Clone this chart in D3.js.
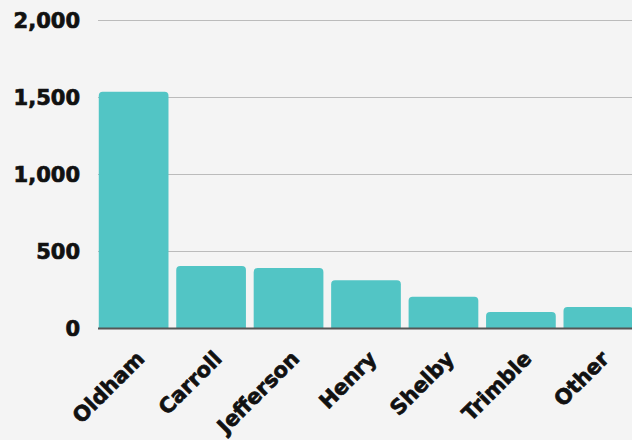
<!DOCTYPE html>
<html lang="en">
<head>
    <meta charset="UTF-8">
    <title>Chart</title>
    <style>
        body { margin: 0; background: #f4f4f4; }
        text { font-family: 'DejaVu Sans', sans-serif; font-weight: bold; fill: #111; stroke: #111; stroke-width: 0.7px; }
    </style>
</head>
<body>
    <svg id="svg" width="632" height="440"></svg>

    <script src="https://d3js.org/d3.v7.min.js"></script>
    <script>
        // data
        const counties = ['Oldham', 'Carroll', 'Jefferson', 'Henry', 'Shelby', 'Trimble', 'Other']
        const counts = [1534, 403, 390, 310, 203, 104, 136]
        const yTicks = [0, 500, 1000, 1500, 2000]

        const svg = d3.select('#svg')
        svg.append('rect').attr('width', 632).attr('height', 440).attr('fill', '#f4f4f4')

        const xScale = d3.scaleBand()
            .domain(counties)
            .range([98, 634])
            .paddingInner(0.1)
            .paddingOuter(0.01)
        const yScale = d3.scaleLinear()
            .domain([0, 2000])
            .range([328, 20])

        // gridlines
        svg.append('g')
            .selectAll('line')
            .data(yTicks.slice(1))
            .enter()
            .append('line')
            .attr('x1', 98)
            .attr('x2', 632)
            .attr('y1', d => yScale(d) + 0.5)
            .attr('y2', d => yScale(d) + 0.5)
            .attr('stroke', '#bbbbbb')
            .attr('stroke-width', 1)

        // y labels
        svg.append('g')
            .selectAll('text')
            .data(yTicks)
            .enter()
            .append('text')
            .text(d => d3.format(',')(d))
            .attr('x', 80)
            .attr('y', d => yScale(d) + 8)
            .attr('text-anchor', 'end')
            .style('font-size', '21px')

        // bars with rounded top corners
        const r = 4
        svg.append('g')
            .selectAll('path')
            .data(counties)
            .enter()
            .append('path')
            .attr('d', (d, i) => {
                const x0 = xScale(d)
                const x1 = x0 + xScale.bandwidth()
                const y0 = yScale(0)
                const y1 = yScale(counts[i])
                return `M${x0},${y0}V${y1 + r}Q${x0},${y1} ${x0 + r},${y1}H${x1 - r}Q${x1},${y1} ${x1},${y1 + r}V${y0}Z`
            })
            .attr('fill', '#52c5c5')

        // baseline
        svg.append('line')
            .attr('x1', 98)
            .attr('x2', 632)
            .attr('y1', yScale(0) + 0.5)
            .attr('y2', yScale(0) + 0.5)
            .attr('stroke', '#555')
            .attr('stroke-width', 2)

        // x labels
        svg.append('g')
            .selectAll('text')
            .data(counties)
            .enter()
            .append('text')
            .text(d => d)
            .attr('text-anchor', 'end')
            .attr('transform', d => `translate(${xScale(d) + xScale.bandwidth() / 2 + 12},${360}) rotate(-45)`)
            .style('font-size', '21px')
    </script>
</body>
</html>
